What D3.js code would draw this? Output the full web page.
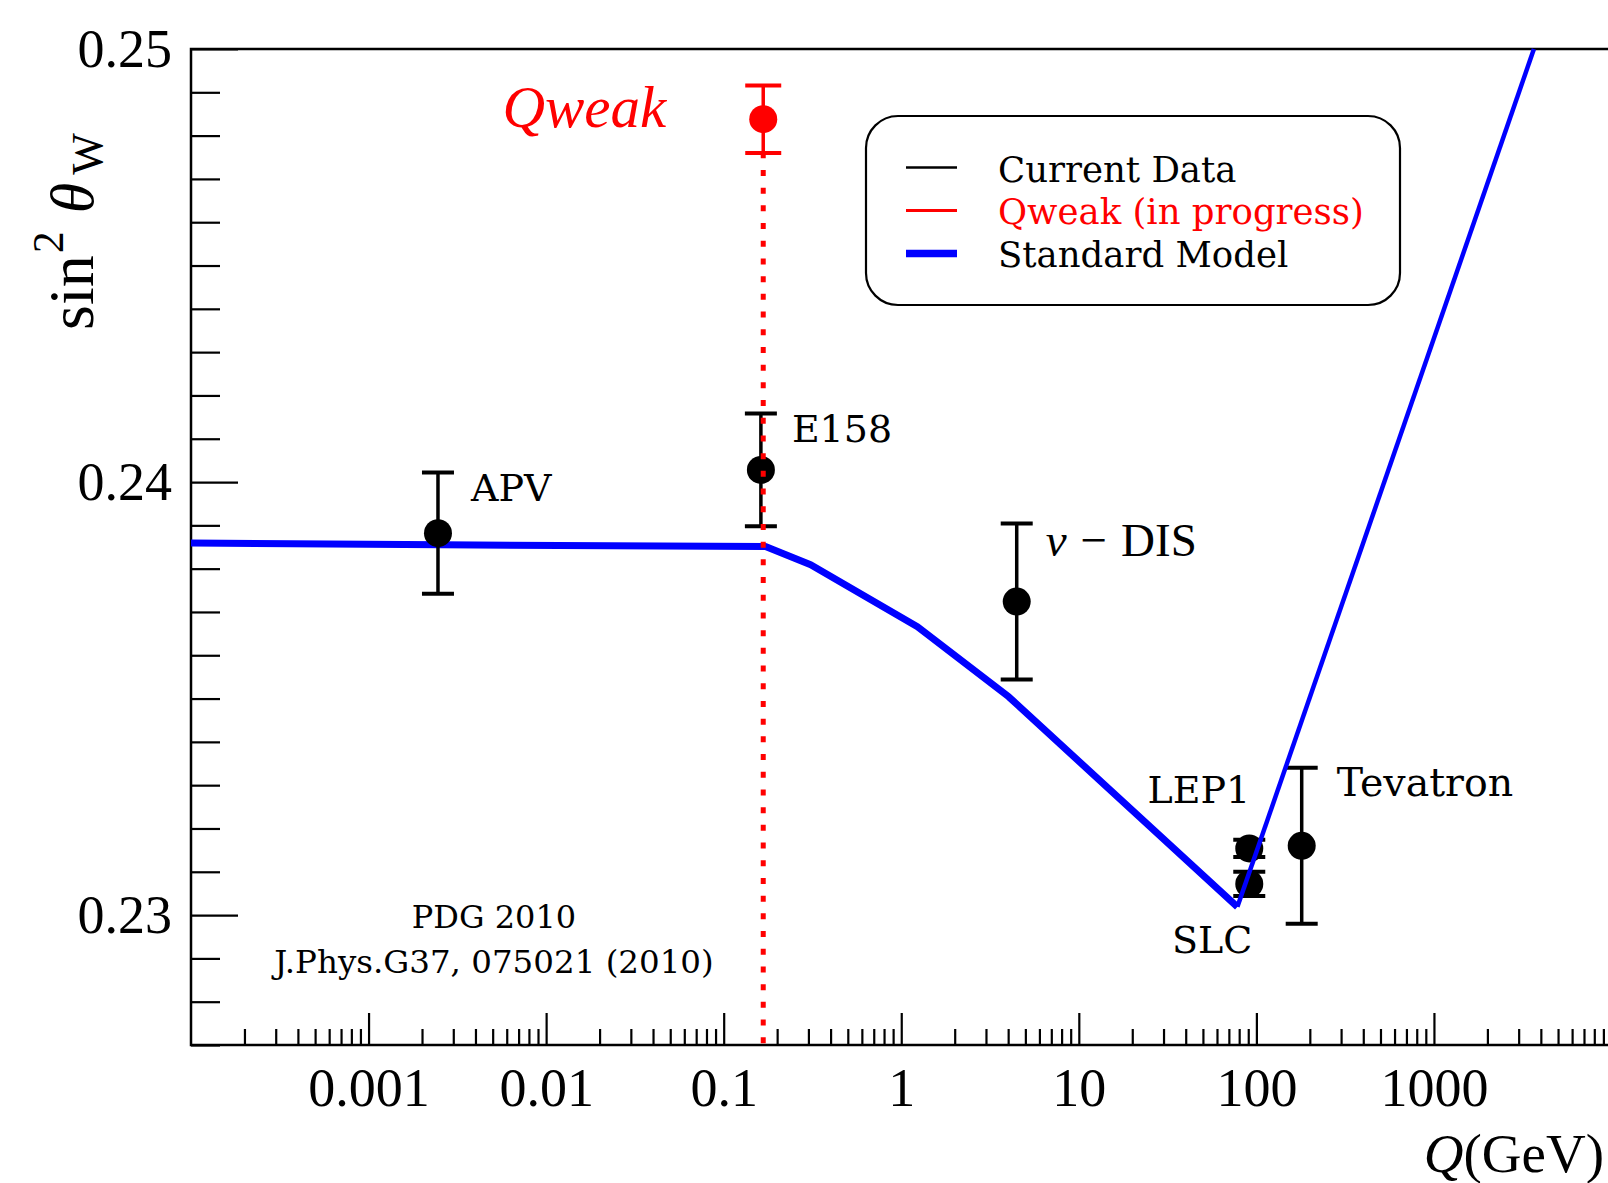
<!DOCTYPE html>
<html lang="en">
<head>
<meta charset="UTF-8" />
<title>sin2 theta_W vs Q</title>
<style>
  body { margin:0; background:#fff; }
  svg { display:block; background:#fff; }
  .axis text { font-family:"Liberation Serif", serif; font-size:54px; fill:#000; }
  .axis line { stroke:#000; stroke-width:2.2; }
  .lbl { font-family:"DejaVu Serif", serif; font-size:38px; fill:#000; }
</style>
</head>
<body>
<svg id="chart" width="1608" height="1183"></svg>
<script src="https://d3js.org/d3.v7.min.js"></script>
<script>
// measurements
const expNames = ["APV", "E158", "nuDIS", "LEP1", "SLC", "Tevatron"];
const expQ     = [0.00246, 0.162, 4.47, 91.19, 91.19, 180];
const expS2w   = [0.23882, 0.24028, 0.23724, 0.23154, 0.23072, 0.23160];
const expErr   = [0.0014, 0.0013, 0.0018, 0.0002, 0.00028, 0.0018];

// Qweak projection
const qweakQ = 0.167, qweakS2w = 0.24838, qweakErr = 0.00078;

// standard model running (two pieces)
const smQ       = [1e-4, 0.00259, 0.172, 0.309, 1.234, 4.03, 78.2];
const smS2w     = [0.23859, 0.23855, 0.23851, 0.23809, 0.23666, 0.23504, 0.23019];
const smHighQ   = [78.2, 3656];
const smHighS2w = [0.23019, 0.25];

// axes
const xDecades     = [0.001, 0.01, 0.1, 1, 10, 100, 1000];
const xDecadeLabel = ["0.001", "0.01", "0.1", "1", "10", "100", "1000"];
const yMajor       = [0.23, 0.24, 0.25];
const yMajorLabel  = ["0.23", "0.24", "0.25"];
const legendLabels = ["Current Data", "Qweak (in progress)", "Standard Model"];

const svg = d3.select("#chart");
const W = 1608, H = 1183;
const pLeft = 191, pRight = 1611.5, pTop = 49, pBottom = 1045;

const x = d3.scaleLog().domain([1e-4, 1e4]).range([pLeft, pRight]);
const y = d3.scaleLinear().domain([0.227, 0.25]).range([pBottom, pTop]);

svg.append("defs").append("clipPath").attr("id", "plotclip")
   .append("rect").attr("x", pLeft).attr("y", pTop - 2)
   .attr("width", pRight - pLeft).attr("height", pBottom - pTop + 2);

// --- axes ---
const xMinor = [];
for (let e = -4; e < 4; e++) for (let k = 2; k <= 9; k++) xMinor.push(k * Math.pow(10, e));
const yMinor = d3.range(0, 24).map(i => +(0.227 + i * 0.001).toFixed(3))
                 .filter(v => !yMajor.includes(v));

svg.append("g").attr("class", "axis").attr("transform", `translate(0,${pBottom})`)
   .call(d3.axisBottom(x).tickValues(xMinor).tickSizeInner(-16).tickSizeOuter(0).tickFormat(""))
   .call(g => g.select(".domain").remove());
svg.append("g").attr("class", "axis").attr("transform", `translate(0,${pBottom})`)
   .call(d3.axisBottom(x).tickValues(xDecades).tickSizeInner(-32).tickSizeOuter(0)
           .tickPadding(23).tickFormat((d, i) => xDecadeLabel[i]))
   .call(g => g.select(".domain").remove());

svg.append("g").attr("class", "axis").attr("transform", `translate(${pLeft},0)`)
   .call(d3.axisLeft(y).tickValues(yMinor).tickSizeInner(-29).tickSizeOuter(0).tickFormat(""))
   .call(g => g.select(".domain").remove());
svg.append("g").attr("class", "axis").attr("transform", `translate(${pLeft},0)`)
   .call(d3.axisLeft(y).tickValues(yMajor).tickSizeInner(-47).tickSizeOuter(0)
           .tickPadding(19).tickFormat((d, i) => yMajorLabel[i]))
   .call(g => g.select(".domain").remove());

// frame
svg.append("path")
   .attr("d", `M${W},${pTop}H${pLeft}V${pBottom}H${W}`)
   .attr("fill", "none").attr("stroke", "#000").attr("stroke-width", 2.5);

// axis titles
const yt = svg.append("text")
  .attr("transform", "translate(93,330) rotate(-90)")
  .style("font-family", "Liberation Serif, serif").style("font-size", "64px");
yt.append("tspan").text("sin");
yt.append("tspan").attr("dx", 2).attr("dy", -30).style("font-size", "44px").text("2");
yt.append("tspan").attr("dx", 18).attr("dy", 30).style("font-style", "italic").style("font-size", "62px").text("θ");
yt.append("tspan").attr("dx", 8).attr("dy", 9).style("font-size", "44px").text("W");

const xt = svg.append("text").attr("x", 1604).attr("y", 1172).attr("text-anchor", "end")
  .style("font-family", "Liberation Serif, serif").style("font-size", "55px");
xt.append("tspan").style("font-style", "italic").text("Q");
xt.append("tspan").text("(GeV)");

// --- standard model curve ---
const line = d3.line().x(d => x(d[0])).y(d => y(d[1]));
const plot = svg.append("g").attr("clip-path", "url(#plotclip)");
plot.append("path").datum(smQ.map((q, i) => [q, smS2w[i]]))
    .attr("d", line).attr("fill", "none").attr("stroke", "#0000ff")
    .attr("stroke-width", 7).attr("stroke-linejoin", "round");

// --- current data ---
const pts = expQ.map((q, i) => ({ name: expNames[i], q, s: expS2w[i], e: expErr[i] }));
const dg = plot.append("g").selectAll("g").data(pts).join("g");
dg.append("line").attr("x1", d => x(d.q)).attr("x2", d => x(d.q))
  .attr("y1", d => y(d.s - d.e)).attr("y2", d => y(d.s + d.e))
  .attr("stroke", "#000").attr("stroke-width", 3.5);
dg.selectAll("line.cap").data(d => [[d.q, d.s - d.e], [d.q, d.s + d.e]]).join("line")
  .attr("class", "cap")
  .attr("x1", d => x(d[0]) - 16).attr("x2", d => x(d[0]) + 16)
  .attr("y1", d => y(d[1])).attr("y2", d => y(d[1]))
  .attr("stroke", "#000").attr("stroke-width", 4);
dg.append("circle").attr("cx", d => x(d.q)).attr("cy", d => y(d.s)).attr("r", 14).attr("fill", "#000");

// high-Q branch of the curve
plot.append("path").datum(smHighQ.map((q, i) => [q, smHighS2w[i]]))
    .attr("d", line).attr("fill", "none").attr("stroke", "#0000ff").attr("stroke-width", 4.5);

// --- Qweak ---
plot.append("line")
    .attr("x1", x(qweakQ)).attr("x2", x(qweakQ))
    .attr("y1", y(qweakS2w - qweakErr)).attr("y2", pBottom)
    .attr("stroke", "#ff0000").attr("stroke-width", 5)
    .attr("stroke-dasharray", "6 11.7").attr("stroke-dashoffset", -17);
plot.append("line")
    .attr("x1", x(qweakQ)).attr("x2", x(qweakQ))
    .attr("y1", y(qweakS2w - qweakErr)).attr("y2", y(qweakS2w + qweakErr))
    .attr("stroke", "#ff0000").attr("stroke-width", 3.5);
[qweakS2w - qweakErr, qweakS2w + qweakErr].forEach(v => {
  plot.append("line").attr("x1", x(qweakQ) - 18).attr("x2", x(qweakQ) + 18)
      .attr("y1", y(v)).attr("y2", y(v)).attr("stroke", "#ff0000").attr("stroke-width", 4);
});
plot.append("circle").attr("cx", x(qweakQ)).attr("cy", y(qweakS2w)).attr("r", 14).attr("fill", "#ff0000");

// --- labels ---
const P = name => pts.find(p => p.name === name);
const lbl = (t, px, py, anchor) => svg.append("text").attr("class", "lbl")
  .attr("x", px).attr("y", py).attr("text-anchor", anchor || "start").text(t);

lbl("APV",  x(P("APV").q) + 33,  y(P("APV").s + P("APV").e) + 28);
lbl("E158", x(P("E158").q) + 31, y(P("E158").s + P("E158").e) + 28);
lbl("Tevatron", x(P("Tevatron").q) + 35, y(P("Tevatron").s + P("Tevatron").e) + 28)
  .style("font-size", "39.5px");
lbl("LEP1", x(P("LEP1").q) + 1, y(P("LEP1").s + P("LEP1").e) - 37, "end");
lbl("SLC",  x(P("SLC").q) + 3,  y(P("SLC").s - P("SLC").e) + 57, "end");

const nu = svg.append("text")
  .attr("x", x(P("nuDIS").q) + 29).attr("y", y(P("nuDIS").s + P("nuDIS").e) + 32)
  .style("font-family", "Liberation Serif, serif").style("font-size", "47px");
nu.append("tspan").style("font-style", "italic").text("ν");
nu.append("tspan").attr("dx", 14).text("−");
nu.append("tspan").attr("dx", 14).text("DIS");

svg.append("text").attr("x", x(qweakQ) - 97).attr("y", y(qweakS2w) + 8).attr("text-anchor", "end")
   .style("font-family", "Liberation Serif, serif").style("font-style", "italic")
   .style("font-size", "59px").style("fill", "#ff0000").text("Qweak");

svg.append("text").attr("class", "lbl").attr("x", 494).attr("y", 928).attr("text-anchor", "middle")
   .style("font-size", "32px").text("PDG 2010");
svg.append("text").attr("class", "lbl").attr("x", 494).attr("y", 973).attr("text-anchor", "middle")
   .style("font-size", "32.5px").text("J.Phys.G37, 075021 (2010)");

// --- legend ---
const lg = svg.append("g");
lg.append("rect").attr("x", 866).attr("y", 116).attr("width", 534).attr("height", 189)
  .attr("rx", 32).attr("fill", "#fff").attr("stroke", "#000").attr("stroke-width", 2.2);
const lgColors = ["#000", "#ff0000", "#0000ff"];
const lgWidths = [2.5, 3, 7.5];
legendLabels.forEach((t, i) => {
  lg.append("line").attr("x1", 906).attr("x2", 957)
    .attr("y1", 167.5 + i * 43).attr("y2", 167.5 + i * 43)
    .attr("stroke", lgColors[i]).attr("stroke-width", lgWidths[i]);
  lg.append("text").attr("class", "lbl").attr("x", 998).attr("y", 181.5 + i * 42.5)
    .style("font-size", "35.5px").style("fill", lgColors[i] === "#0000ff" ? "#000" : lgColors[i]).text(t);
});
</script>
</body>
</html>
